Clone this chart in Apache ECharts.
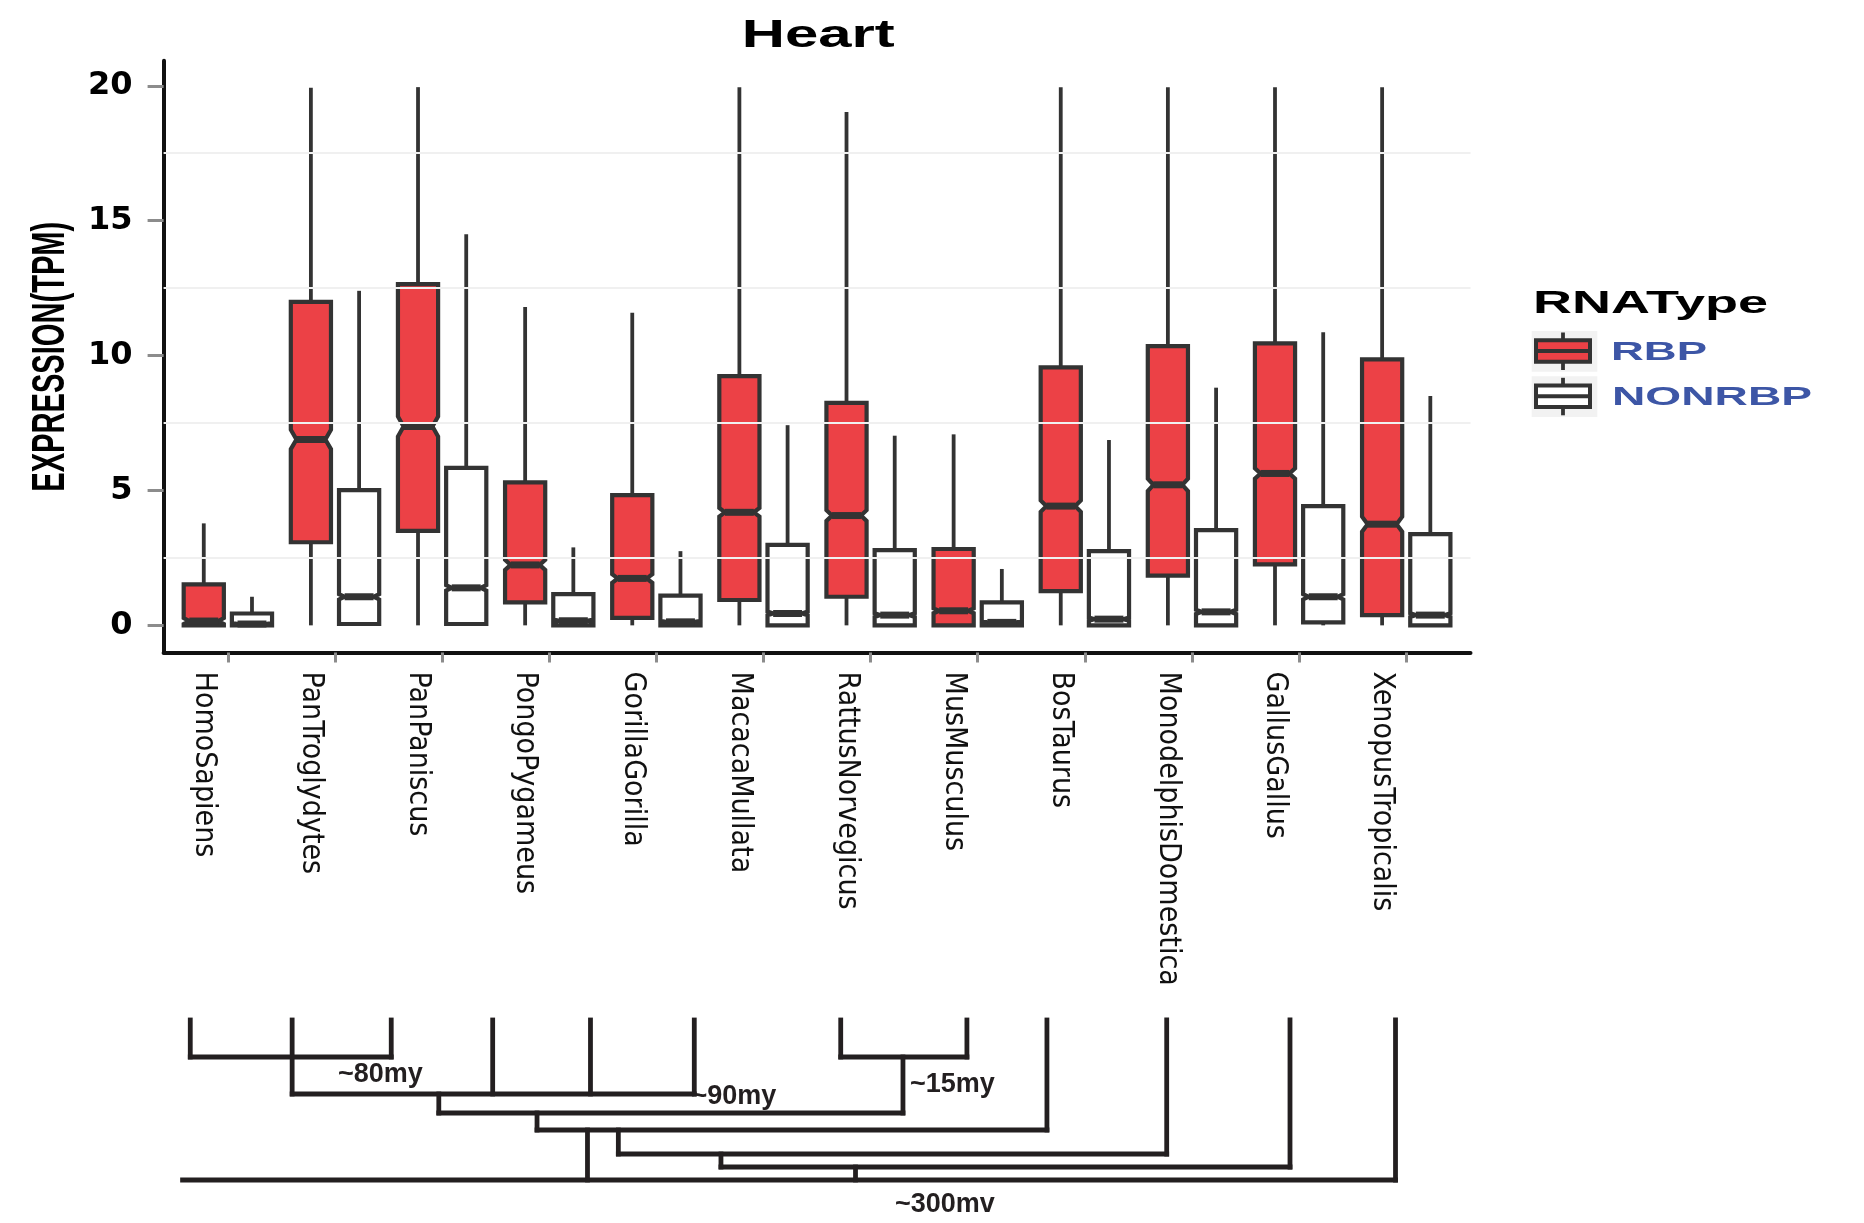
<!DOCTYPE html>
<html>
<head>
<meta charset="utf-8">
<title>Heart</title>
<script src="https://cdn.jsdelivr.net/npm/echarts@6/dist/echarts.min.js"></script>
<style>
  html, body { margin: 0; padding: 0; background: #ffffff; }
  #chart { width: 1864px; height: 1223px; }
</style>
</head>
<body>
<div id="chart"></div>
<script>
// ---- data -------------------------------------------------------------
const species = ['HomoSapiens', 'PanTroglydytes', 'PanPaniscus', 'PongoPygameus', 'GorillaGorilla',
  'MacacaMullata', 'RattusNorvegicus', 'MusMusculus', 'BosTaurus', 'MonodelphisDomestica',
  'GallusGallus', 'XenopusTropicalis'];

// RBP expression (TPM): whisker ends, hinges, median and notch half-height
const rbpLow    = [0, 0, 0, 0, 0, 0, 0, 0, 0, 0, 0, 0];
const rbpQ1     = [0, 3.08, 3.5, 0.85, 0.28, 0.94, 1.06, 0, 1.27, 1.84, 2.26, 0.38];
const rbpMedian = [0.16, 6.89, 7.37, 2.24, 1.74, 4.19, 4.07, 0.54, 4.42, 5.21, 5.63, 3.75];
const rbpQ3     = [1.52, 11.99, 12.65, 5.3, 4.83, 9.24, 8.25, 2.83, 9.56, 10.35, 10.45, 9.86];
const rbpHigh   = [3.78, 19.93, 19.95, 11.8, 11.59, 19.95, 19.03, 7.08, 19.95, 19.95, 19.95, 19.95];
const rbpNotch  = [0.11, 0.36, 0.37, 0.19, 0.16, 0.16, 0.2, 0.09, 0.21, 0.23, 0.19, 0.28];

// NONRBP expression (TPM)
const nonLow    = [0, 0, 0, 0, 0, 0, 0, 0, 0, 0, 0, 0];
const nonQ1     = [0, 0.05, 0.05, 0, 0, 0, 0, 0, 0, 0, 0.11, 0];
const nonMedian = [0.05, 1.06, 1.39, 0.17, 0.13, 0.44, 0.38, 0.11, 0.23, 0.5, 1.06, 0.38];
const nonQ3     = [0.44, 5.01, 5.84, 1.16, 1.10, 2.98, 2.79, 0.85, 2.75, 3.53, 4.42, 3.38];
const nonHigh   = [1.06, 12.4, 14.5, 2.89, 2.75, 7.42, 7.03, 2.09, 6.87, 8.81, 10.86, 8.5];
const nonNotch  = [0.03, 0.1, 0.1, 0.04, 0.04, 0.07, 0.07, 0.03, 0.06, 0.08, 0.1, 0.07];

const yTicks = [0, 5, 10, 15, 20];
const yMinorGrid = [2.5, 7.5, 12.5, 17.5];

// Species tree drawn under the axis, in category units (x) and depth units (y)
const leafPos   = [-0.351, 0.600, 1.525, 2.472, 3.385, 4.354, 5.721, 6.899, 7.646, 8.764, 9.915, 10.900];
const leafDepth = [37, 74, 37, 74, 74, 74, 37, 37, 110, 134, 147, 160];
const cladeBars  = [[37, -0.351, 1.525], [37, 5.721, 6.899], [74, 0.600, 4.354], [93, 1.969, 6.302],
  [110, 2.886, 7.646], [134, 3.645, 8.764], [147, 4.603, 9.915], [160, -0.423, 10.900]];
const cladeStems = [[1.969, 74, 93], [6.302, 37, 93], [2.886, 93, 110], [3.357, 110, 160],
  [3.645, 110, 134], [4.603, 134, 147], [5.859, 147, 160]];
const divergenceText = ['~80my', '~90my', '~15my', '~300mv'];
const divergenceAt   = [[1.423, 55], [4.723, 77], [6.763, 65], [6.693, 185]];

// ---- styling constants -------------------------------------------------
const RED = '#ec4146';
const INK = '#333333';
const BLUE = '#3d56a6';
const TREE = '#231f20';
const BOX_WIDTH = 0.375;
const DODGE = 0.225;
const NOTCH_WIDTH = 0.72;
const SANS = '"Liberation Sans", Arial, sans-serif';
const NARROW = '"Liberation Sans Narrow", "Arial Narrow", "DejaVu Sans Condensed", "Roboto Condensed", sans-serif';

// ---- helpers -----------------------------------------------------------
const measureCtx = document.createElement('canvas').getContext('2d');
function textWidth(text, weight, size, family) {
  measureCtx.font = weight + ' ' + size + 'px ' + family;
  return measureCtx.measureText(text).width;
}
// text element widened (or squeezed) along its reading direction to a given length
function stretchedText(text, o) {
  const natural = textWidth(text, o.weight || 'bold', o.size, o.family || SANS);
  return {
    type: 'text',
    x: o.x, y: o.y,
    rotation: o.rotation || 0,
    scaleX: o.length / natural,
    silent: true,
    style: {
      text: text,
      fontSize: o.size,
      fontWeight: o.weight || 'bold',
      fontFamily: o.family || SANS,
      fill: o.color || '#000000',
      textAlign: o.align || 'left',
      textVerticalAlign: 'middle'
    }
  };
}

function boxRows(low, q1, med, q3, high, notch) {
  return species.map((s, i) => [i, low[i], q1[i], med[i], q3[i], high[i], notch[i]]);
}

function notchedBox(offset, fill) {
  return function (params, api) {
    const x = api.value(0) + offset;
    const lo = api.value(1), q1 = api.value(2), med = api.value(3);
    const q3 = api.value(4), hi = api.value(5), nh = api.value(6);
    const y = v => api.coord([x, v])[1];
    const cx = api.coord([x, med])[0];
    const half = api.size([BOX_WIDTH, 0])[0] / 2;
    const pin = half * (1 - NOTCH_WIDTH);
    const L = cx - half, R = cx + half;
    const points = [
      [L, y(q1)], [L, y(med - nh)], [L + pin, y(med)], [L, y(med + nh)], [L, y(q3)],
      [R, y(q3)], [R, y(med + nh)], [R - pin, y(med)], [R, y(med - nh)], [R, y(q1)]
    ];
    const whisker = { stroke: INK, lineWidth: 3.8 };
    return {
      type: 'group',
      children: [
        { type: 'line', shape: { x1: cx, y1: y(q3), x2: cx, y2: y(hi) }, style: whisker },
        { type: 'line', shape: { x1: cx, y1: y(q1), x2: cx, y2: y(lo) }, style: whisker },
        { type: 'polygon', shape: { points: points },
          style: { fill: fill, stroke: INK, lineWidth: 4.2, lineJoin: 'miter' } },
        { type: 'line', shape: { x1: L + pin, y1: y(med), x2: R - pin, y2: y(med) },
          style: { stroke: INK, lineWidth: 7 } }
      ]
    };
  };
}

// tree segments: [x1, depth1, x2, depth2]
const treeSegments = []
  .concat(leafPos.map((p, i) => [p, 0, p, leafDepth[i]]))
  .concat(cladeBars.map(b => [b[1], b[0], b[2], b[0]]))
  .concat(cladeStems.map(s => [s[0], s[1], s[0], s[2]]));

// ---- chart -------------------------------------------------------------
const chart = echarts.init(document.getElementById('chart'), null, { renderer: 'canvas' });

const legendKey = (top, fill) => ([
  { type: 'rect', shape: { x: 1531.7, y: top, width: 65.6, height: 40.7 }, style: { fill: '#f2f2f2' }, silent: true },
  { type: 'line', shape: { x1: 1563, y1: top + 1.5, x2: 1563, y2: top + 39 }, style: { stroke: INK, lineWidth: 3.8 }, silent: true },
  { type: 'rect', shape: { x: 1536, y: top + 9.3, width: 54, height: 21.5 }, style: { fill: fill, stroke: INK, lineWidth: 4 }, silent: true },
  { type: 'line', shape: { x1: 1536, y1: top + 20, x2: 1590, y2: top + 20 }, style: { stroke: INK, lineWidth: 4 }, silent: true }
]);

const option = {
  animation: false,
  backgroundColor: '#ffffff',
  grid: [
    { left: 163.6, right: 393.5, top: 60.7, bottom: 570.4 },
    { left: 163.6, right: 393.5, top: 1020, height: 160 }
  ],
  xAxis: [
    {
      type: 'value', gridIndex: 0, min: -0.6, max: 11.6,
      axisLine: { show: true, onZero: false, lineStyle: { color: '#111111', width: 4 } },
      axisTick: { show: true, customValues: species.map((s, i) => i), length: 10,
        lineStyle: { color: '#8c8c8c', width: 3 } },
      axisLabel: {
        show: true, customValues: species.map((s, i) => i),
        formatter: v => species[Math.round(v)],
        rotate: -90, align: 'left', verticalAlign: 'top', margin: 19, padding: [9, 0, 0, 0],
        fontFamily: NARROW, fontSize: 30, color: '#111111', hideOverlap: false
      },
      splitLine: { show: false }
    },
    { type: 'value', gridIndex: 1, min: -0.6, max: 11.6, show: false }
  ],
  yAxis: [
    {
      type: 'value', gridIndex: 0, min: -1.01, max: 20.93,
      axisLine: { show: true, onZero: false, lineStyle: { color: '#111111', width: 4 } },
      axisTick: { show: true, customValues: yTicks, length: 16, lineStyle: { color: '#8c8c8c', width: 3 } },
      axisLabel: { show: true, customValues: yTicks, margin: 31, color: '#000000',
        fontFamily: '"DejaVu Sans", sans-serif', fontWeight: 'bold', fontSize: 32 },
      splitLine: { show: false }
    },
    { type: 'value', gridIndex: 1, min: 0, max: 160, inverse: true, show: false }
  ],
  series: [
    {
      name: 'grid',
      type: 'custom', xAxisIndex: 0, yAxisIndex: 0, z: 0, silent: true,
      data: [],
      renderItem: () => null,
      markLine: {
        silent: true, symbol: ['none', 'none'], label: { show: false },
        lineStyle: { color: '#f0f0f0', width: 2, type: 'solid' },
        data: yMinorGrid.map(v => ({ yAxis: v }))
      }
    },
    {
      name: 'RBP', type: 'custom', xAxisIndex: 0, yAxisIndex: 0, z: 2,
      encode: { x: 0, y: [1, 2, 3, 4, 5] },
      data: boxRows(rbpLow, rbpQ1, rbpMedian, rbpQ3, rbpHigh, rbpNotch),
      renderItem: notchedBox(-DODGE, RED)
    },
    {
      name: 'NONRBP', type: 'custom', xAxisIndex: 0, yAxisIndex: 0, z: 2,
      encode: { x: 0, y: [1, 2, 3, 4, 5] },
      data: boxRows(nonLow, nonQ1, nonMedian, nonQ3, nonHigh, nonNotch),
      renderItem: notchedBox(DODGE, '#ffffff')
    },
    {
      name: 'tree', type: 'custom', xAxisIndex: 1, yAxisIndex: 1, clip: false, silent: true,
      encode: { x: [0, 2], y: [1, 3] },
      data: treeSegments,
      renderItem: (params, api) => {
        const a = api.coord([api.value(0), api.value(1)]);
        const b = api.coord([api.value(2), api.value(3)]);
        return { type: 'line', shape: { x1: a[0], y1: a[1], x2: b[0], y2: b[1] },
          style: { stroke: TREE, lineWidth: 4.8, lineCap: 'square' } };
      }
    },
    {
      name: 'divergence', type: 'custom', xAxisIndex: 1, yAxisIndex: 1, clip: false, silent: true,
      encode: { x: 0, y: 1 },
      data: divergenceAt.map((p, i) => [p[0], p[1], divergenceText[i]]),
      renderItem: (params, api) => {
        const p = api.coord([api.value(0), api.value(1)]);
        return { type: 'text', x: p[0], y: p[1],
          style: { text: divergenceText[params.dataIndex], fill: TREE, fontFamily: SANS,
            fontWeight: 'bold', fontSize: 27, textAlign: 'center', textVerticalAlign: 'middle' } };
      }
    }
  ],
  graphic: [
    stretchedText('Heart', { x: 818.3, y: 36.7, size: 39, length: 153, align: 'center' }),
    stretchedText('EXPRESSION(TPM)', { x: 51.5, y: 356.7, size: 46, length: 270, align: 'center', rotation: Math.PI / 2 }),
    stretchedText('RNAType', { x: 1533, y: 304, size: 31, length: 235 }),
    ...legendKey(331, RED),
    ...legendKey(376.3, '#ffffff'),
    stretchedText('RBP', { x: 1611, y: 352.5, size: 26, length: 96, color: BLUE }),
    stretchedText('NONRBP', { x: 1612, y: 397.4, size: 26, length: 200, color: BLUE })
  ]
};

chart.setOption(option);
</script>
</body>
</html>
